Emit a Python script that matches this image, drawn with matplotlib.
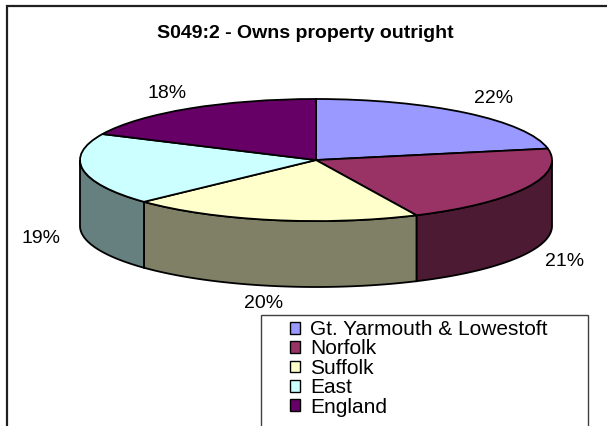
import numpy as np
import matplotlib.pyplot as plt
from matplotlib.patches import Rectangle, Polygon, Patch

plt.rcParams['font.family'] = ['Liberation Sans', 'DejaVu Sans']

# Donnees
TITLE = "S049:2 - Owns property outright"
regions = ["Gt. Yarmouth & Lowestoft", "Norfolk", "Suffolk", "East", "England"]
values = [22, 21, 20, 19, 18]
colors = ["#9999FF", "#993366", "#FFFFCC", "#CCFFFF", "#660066"]

DEPTH = 1.08  # epaisseur du camembert (en unites du rayon vertical)
W, H = 607, 426

fig = plt.figure(figsize=(W / 100, H / 100), dpi=100)

# Cadre exterieur (coupe a droite et en bas)
fig.add_artist(Rectangle((6.5 / W, -0.05), 1.0, (1 - 5.5 / H) + 0.05,
                         transform=fig.transFigure, fill=False,
                         edgecolor="#202020", linewidth=1.6))

fig.text(305 / W, 1 - 33 / H, TITLE, ha="center", va="center",
         fontsize=14, fontweight="bold")

ax = fig.add_axes([80 / W, (H - 287) / H, 472 / W, 188 / H])

# Faces superieures
wedges, _ = ax.pie(values, colors=colors, startangle=90, counterclock=False,
                   radius=1, wedgeprops=dict(edgecolor="black", linewidth=1.3))
for w in wedges:
    w.set_clip_on(False)
    w.set_zorder(3)

# Cotes visibles (moitie avant)
fracs = np.array(values, dtype=float) / sum(values)
bounds = 90 - 360 * np.concatenate([[0], np.cumsum(fracs)])
for i, col in enumerate(colors):
    lo, hi = bounds[i + 1], bounds[i]
    for shift in (0, 360, -360):
        a, b = max(lo + shift, -180), min(hi + shift, 0)
        if b <= a:
            continue
        t = np.radians(np.linspace(a, b, 80))
        top = np.column_stack([np.cos(t), np.sin(t)])
        bot = np.column_stack([np.cos(t[::-1]), np.sin(t[::-1]) - DEPTH])
        side = np.array([int(col[k:k + 2], 16) / 255 * 0.5 for k in (1, 3, 5)])
        ax.add_patch(Polygon(np.vstack([top, bot]), closed=True, facecolor=side,
                             edgecolor="black", linewidth=1.3, zorder=2,
                             clip_on=False))

# Etiquettes de pourcentage
for i, v in enumerate(values):
    mid = np.radians((bounds[i] + bounds[i + 1]) / 2)
    x = 1.18 * np.cos(mid)
    y = 1.3 * np.sin(mid)
    if np.sin(mid) < 0:
        y -= DEPTH
    ax.text(x, y, f"{v / sum(values) * 100:.0f}%", ha="center", va="center",
            fontsize=14)

ax.set_aspect("auto")
ax.set_xlim(-1, 1)
ax.set_ylim(-1 - DEPTH, 1)
ax.axis("off")

# Legende
fig.add_artist(Rectangle((261 / W, -0.05), (588 - 261) / W, (1 - 315 / H) + 0.05,
                         transform=fig.transFigure, fill=False,
                         edgecolor="#404040", linewidth=1.0))
handles = [Patch(facecolor=c, edgecolor="black", linewidth=1.0) for c in colors]
fig.legend(handles, regions, loc="upper left",
           bbox_to_anchor=(290 / W, 1 - 320 / H), frameon=False, fontsize=15,
           handlelength=0.5, handleheight=0.5, handletextpad=0.45,
           labelspacing=0.02, borderpad=0, borderaxespad=0)

fig.savefig("out.png", dpi=100)
